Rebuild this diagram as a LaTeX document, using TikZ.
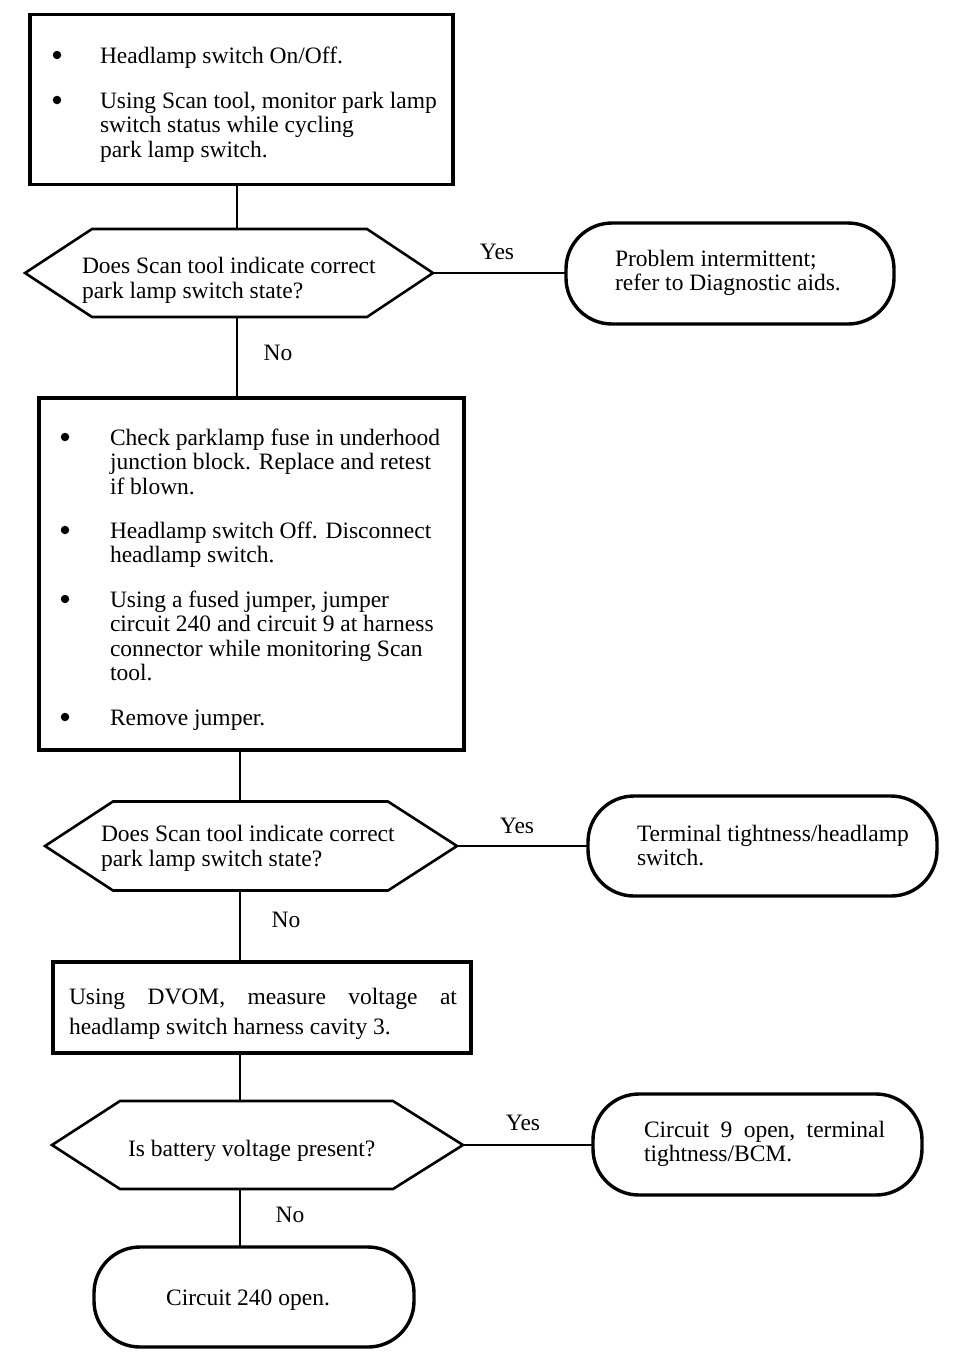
\documentclass[tikz,border=0pt]{standalone}
\usepackage{fontspec}
\setmainfont{Liberation Serif}
\begin{document}
\begin{tikzpicture}[x=1pt,y=-1pt,
  every node/.style={font=\fontsize{23.5}{24.5}\selectfont, inner sep=0pt, outer sep=0pt},
  procbox/.style={draw, line width=3.4pt, rectangle},
  termnode/.style={draw, line width=3.4pt, rectangle, rounded corners=46pt},
  hexnode/.style={rectangle},
  hexline/.style={line width=2.6pt, line join=miter},
  conn/.style={line width=2.2pt},
  txt/.style={anchor=base west, align=left},
  bul/.style={circle, fill, minimum size=8.5pt},
  lbl/.style={anchor=center}]
\useasboundingbox (0,0) rectangle (960,1368);
\fill[white] (0,0) rectangle (960,1368);

% spine coordinates
\coordinate (spa) at (237,0);
\coordinate (spb) at (240,0);

% ---------- Box 1 ----------
\node[procbox, minimum width=423pt, minimum height=170pt] (b1) at (241.5,99.5) {};
\node[bul] (bu1) at (57,55) {};
\node[bul] (bu2) at (57,100) {};
\node[txt] (t1a) at (100,63) {Headlamp switch On/Off.};
% base anchor of a multi-line node = baseline of its last line
\node[txt] (t1b) at (100,157) {Using Scan tool, monitor park lamp\\switch status while cycling\\park lamp switch.};

% ---------- Decision 1 ----------
\node[hexnode, minimum width=408pt, minimum height=88pt] (h1) at (229,273) {};
\draw[hexline] (h1.west) -- ([xshift=67pt]h1.north west) -- ([xshift=-66pt]h1.north east) -- (h1.east)
  -- ([xshift=-66pt]h1.south east) -- ([xshift=67pt]h1.south west) -- cycle;
\node[txt] (h1t) at (82,298) {Does Scan tool indicate correct\\park lamp switch state?};

\node[termnode, minimum width=328pt, minimum height=101pt] (t1) at (730,273.5) {};
\node[txt] (t1t) at (615,290.5) {Problem intermittent;\\refer to Diagnostic aids.};
\node[lbl] (y1) at (497,252) {Yes};
\node[lbl] (n1) at (278,353) {No};

% ---------- Box 2 ----------
\node[procbox, minimum width=425pt, minimum height=352pt] (b2) at (251.5,574) {};
\node[bul] (bu3) at (65,437) {};
\node[bul] (bu4) at (65,530) {};
\node[bul] (bu5) at (65,599) {};
\node[bul] (bu6) at (65,717) {};
\node[txt] (t2a) at (110,494) {Check parklamp fuse in underhood\\junction block. Replace and retest\\if blown.};
\node[txt] (t2b) at (110,562.5) {Headlamp switch Off. Disconnect\\headlamp switch.};
\node[txt] (t2c) at (110,680.5) {Using a fused jumper, jumper\\circuit 240 and circuit 9 at harness\\connector while monitoring Scan\\tool.};
\node[txt] (t2d) at (110,725) {Remove jumper.};

% ---------- Decision 2 ----------
\node[hexnode, minimum width=412pt, minimum height=89pt] (h2) at (251,846) {};
\draw[hexline] (h2.west) -- ([xshift=68pt]h2.north west) -- ([xshift=-69pt]h2.north east) -- (h2.east)
  -- ([xshift=-69pt]h2.south east) -- ([xshift=68pt]h2.south west) -- cycle;
\node[txt] (h2t) at (101,866) {Does Scan tool indicate correct\\park lamp switch state?};

\node[termnode, minimum width=349pt, minimum height=100pt] (t2) at (762.5,846) {};
\node[txt] (t2t) at (637,865.5) {Terminal tightness/headlamp\\switch.};
\node[lbl] (y2) at (517,826) {Yes};
\node[lbl] (n2) at (286,920) {No};

% ---------- Box 3 ----------
\node[procbox, minimum width=418pt, minimum height=91pt] (b3) at (262,1007.5) {};
\node[txt] (t3a) at (69,1034) {\hbox to 388pt{Using\hfill DVOM,\hfill measure\hfill voltage\hfill at}\\[5.5pt]headlamp switch harness cavity 3.};

% ---------- Decision 3 ----------
\node[hexnode, minimum width=411pt, minimum height=88pt] (h3) at (257.5,1145) {};
\draw[hexline] (h3.west) -- ([xshift=68pt]h3.north west) -- ([xshift=-70pt]h3.north east) -- (h3.east)
  -- ([xshift=-70pt]h3.south east) -- ([xshift=68pt]h3.south west) -- cycle;
\node[txt] (h3t) at (128,1156) {Is battery voltage present?};

\node[termnode, minimum width=329pt, minimum height=101pt] (t3) at (757.5,1144.5) {};
\node[txt] (t3t) at (644,1161.5) {\hbox to 241pt{Circuit\hfill 9\hfill open,\hfill terminal}\\tightness/BCM.};
\node[lbl] (y3) at (523,1123) {Yes};
\node[lbl] (n3) at (290,1215) {No};

% ---------- Terminal 4 ----------
\node[termnode, minimum width=320pt, minimum height=100pt] (t4) at (254,1297) {};
\node[anchor=base] (t4t) at (248,1305) {Circuit 240 open.};

% ---------- Connectors ----------
\draw[conn] (b1.south -| spa) -- (h1.north -| spa);
\draw[conn] (h1.south -| spa) -- (b2.north -| spa);
\draw[conn] (b2.south -| spb) -- (h2.north -| spb);
\draw[conn] (h2.south -| spb) -- (b3.north -| spb);
\draw[conn] (b3.south -| spb) -- (h3.north -| spb);
\draw[conn] (h3.south -| spb) -- (t4.north -| spb);
\draw[conn] (h1.east) -- (h1.east -| t1.west);
\draw[conn] (h2.east) -- (h2.east -| t2.west);
\draw[conn] (h3.east) -- (h3.east -| t3.west);
\end{tikzpicture}
\end{document}
